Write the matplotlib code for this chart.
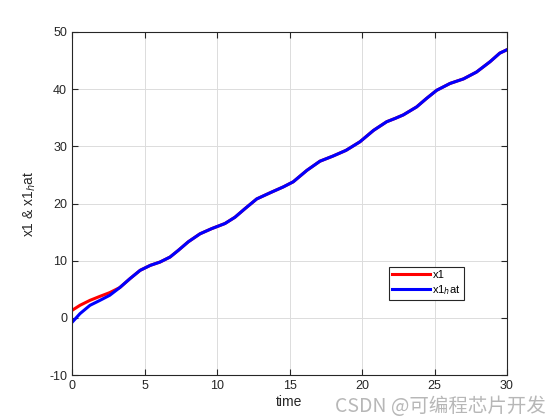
import matplotlib
matplotlib.use("Agg")
import matplotlib.pyplot as plt

t_hat = [0, 0.55, 1.24, 1.93, 2.6, 3.3, 4.0, 4.7, 5.4, 6.07, 6.76, 7.33, 8.02, 8.83,
         9.63, 10.55, 11.24, 11.93, 12.74, 13.77, 14.57, 15.26, 16.2, 17.1, 18.0,
         18.9, 19.86, 20.8, 21.7, 22.3, 22.85, 23.77, 24.46, 25.15, 26.07, 27.0,
         27.9, 28.83, 29.5, 30.0]
x1_hat = [-0.8, 0.73, 2.19, 3.06, 3.94, 5.3, 6.86, 8.31, 9.18, 9.76, 10.63, 11.8,
          13.3, 14.7, 15.6, 16.5, 17.6, 19.1, 20.8, 22.0, 22.9, 23.8, 25.8, 27.4,
          28.3, 29.3, 30.8, 32.8, 34.3, 34.9, 35.5, 36.9, 38.4, 39.8, 41.0, 41.8,
          43.0, 44.8, 46.3, 46.9]

t_x1 = [0, 0.55, 1.24, 1.93, 2.6] + t_hat[5:]
x1 = [1.3, 2.19, 3.06, 3.76, 4.41] + x1_hat[5:]

xticks = [0, 5, 10, 15, 20, 25, 30]
yticks = [-10, 0, 10, 20, 30, 40, 50]

plt.rcParams['font.family'] = ['Liberation Sans', 'DejaVu Sans']
plt.rcParams['axes.unicode_minus'] = False

fig = plt.figure(figsize=(5.6, 4.2), dpi=100)
ax = fig.add_axes([72/560, 45/420, 435/560, 343/420])

ax.plot(t_x1, x1, color='#ff0000', lw=2.2, label='x1', solid_joinstyle='round')
ax.plot(t_hat, x1_hat, color='#0000ff', lw=2.2, label='x1$_h$at',
        solid_joinstyle='round')

ax.set_xlim(0, 30)
ax.set_ylim(-10, 50)
ax.set_xticks(xticks)
ax.set_yticks(yticks)
ax.grid(True, color='#dcdcdc', lw=0.7)
ax.tick_params(direction='in', top=True, right=True, labelsize=9,
               colors='#262626', length=4)
for s in ax.spines.values():
    s.set_color('#262626')
    s.set_linewidth(0.8)

ax.set_xlabel('time', fontsize=10, color='#262626', labelpad=2)
ax.set_ylabel('x1 & x1$_h$at', fontsize=10, color='#262626', labelpad=8)

leg = ax.legend(loc='upper left', bbox_to_anchor=(0.729, 0.315), fontsize=8,
                fancybox=False, framealpha=1, edgecolor='#262626',
                handlelength=3.4, borderpad=0.3, labelspacing=0.25,
                handletextpad=0.2, borderaxespad=0)
leg.get_frame().set_linewidth(0.8)

fig.text(0.975, 0.008, 'CSDN @可编程芯片开发', ha='right', va='bottom',
         fontsize=14, color='#b0b0b0', alpha=0.9,
         family=['Noto Sans CJK SC', 'DejaVu Sans'])

fig.savefig('out.png', dpi=100)
